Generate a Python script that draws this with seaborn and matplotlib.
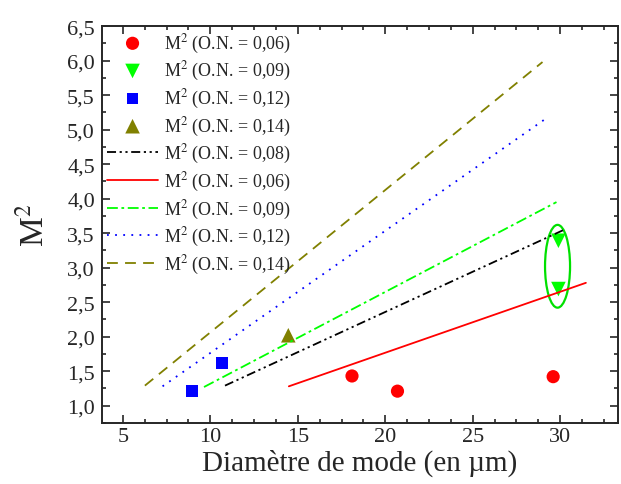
#import modules
import numpy as np
import pandas as pd
import seaborn as sns
import matplotlib
matplotlib.use('Agg')
import matplotlib.pyplot as plt
from matplotlib.patches import Ellipse
from matplotlib.ticker import MultipleLocator, FuncFormatter

#measured points
red_x = [18.1, 20.7, 29.6]
red_y = [1.43, 1.21, 1.42]
green_x = [29.9, 29.9]
green_y = [3.39, 2.69]
blue_x = [8.96, 10.67]
blue_y = [1.21, 1.62]
olive_x = [14.46]
olive_y = [2.02]

#model lines (end points)
line08_x = [10.84, 30.23]
line08_y = [1.29, 3.55]
line06_x = [14.49, 31.47]
line06_y = [1.28, 2.78]
line09_x = [9.64, 29.79]
line09_y = [1.27, 3.95]
line12_x = [7.27, 29.18]
line12_y = [1.28, 5.16]
line14_x = [6.26, 28.99]
line14_y = [1.29, 5.98]

sns.set_style('ticks')
plt.rcParams['font.family'] = ['Liberation Serif', 'DejaVu Serif']
plt.rcParams['mathtext.fontset'] = 'stix'

fig = plt.figure(figsize=(6.21, 4.85), dpi=100)
ax = fig.add_axes([0.164, 0.126, 0.831, 0.818])

sns.scatterplot(ax=ax, x=red_x, y=red_y, color='#ff0000', marker='o', s=90, edgecolor='none', label='M$^2$ (O.N. = 0,06)')
sns.scatterplot(ax=ax, x=green_x, y=green_y, color='#00ff00', marker='v', s=110, edgecolor='none', label='M$^2$ (O.N. = 0,09)')
sns.scatterplot(ax=ax, x=blue_x, y=blue_y, color='#0000ff', marker='s', s=70, edgecolor='none', label='M$^2$ (O.N. = 0,12)')
sns.scatterplot(ax=ax, x=olive_x, y=olive_y, color='#808000', marker='^', s=110, edgecolor='none', label='M$^2$ (O.N. = 0,14)')

sns.lineplot(ax=ax, x=line08_x, y=line08_y, color='black', lw=1.3, label='M$^2$ (O.N. = 0,08)')
ax.lines[-1].set_dashes([5, 2, 1.2, 2, 1.2, 2])
sns.lineplot(ax=ax, x=line06_x, y=line06_y, color='#ff0000', lw=1.3, label='M$^2$ (O.N. = 0,06)')
sns.lineplot(ax=ax, x=line09_x, y=line09_y, color='#00ff00', lw=1.3, label='M$^2$ (O.N. = 0,09)')
ax.lines[-1].set_dashes([6, 2, 1.5, 2])
sns.lineplot(ax=ax, x=line12_x, y=line12_y, color='#0000ff', lw=1.3, label='M$^2$ (O.N. = 0,12)')
ax.lines[-1].set_dashes([1, 3.5])
sns.lineplot(ax=ax, x=line14_x, y=line14_y, color='#808000', lw=1.3, label='M$^2$ (O.N. = 0,14)')
ax.lines[-1].set_dashes([6, 4])

#ellipse around the green points
ax.add_patch(Ellipse((29.85, 3.02), 1.43, 1.2, fill=False, edgecolor='#00e000', lw=1.6))

#axis formatting
ax.set_xlim(3.8, 33.3)
ax.set_ylim(0.75, 6.5)
ax.xaxis.set_major_locator(MultipleLocator(5))
ax.xaxis.set_minor_locator(MultipleLocator(1.25))
ax.yaxis.set_major_locator(MultipleLocator(0.5))
ax.yaxis.set_minor_locator(MultipleLocator(0.25))
ax.xaxis.set_major_formatter(FuncFormatter(lambda v, p: '%d' % v))
ax.yaxis.set_major_formatter(FuncFormatter(lambda v, p: ('%.1f' % v).replace('.', ',')))
ax.tick_params(which='both', direction='in', top=True, right=True, labelsize=16, width=1.2)
ax.tick_params(which='major', length=6, pad=5)
ax.tick_params(which='minor', length=3)
ax.tick_params(axis='x', which='major', pad=3)
for sp in ax.spines.values():
    sp.set_linewidth(1.4)
ax.set_xlabel('Diamètre de mode (en µm)', fontsize=21, labelpad=2)
ax.set_ylabel('M$^2$', fontsize=24, labelpad=12)

handles, labels = ax.get_legend_handles_labels()
ax.legend(handles, labels, loc='upper left', bbox_to_anchor=(0.0, 1.0), frameon=False,
          fontsize=13, handlelength=2.8, handletextpad=0.35, labelspacing=0.25, borderaxespad=0.0,
          borderpad=0.3)

#save fig as png
plt.savefig('out.png', dpi=100)
